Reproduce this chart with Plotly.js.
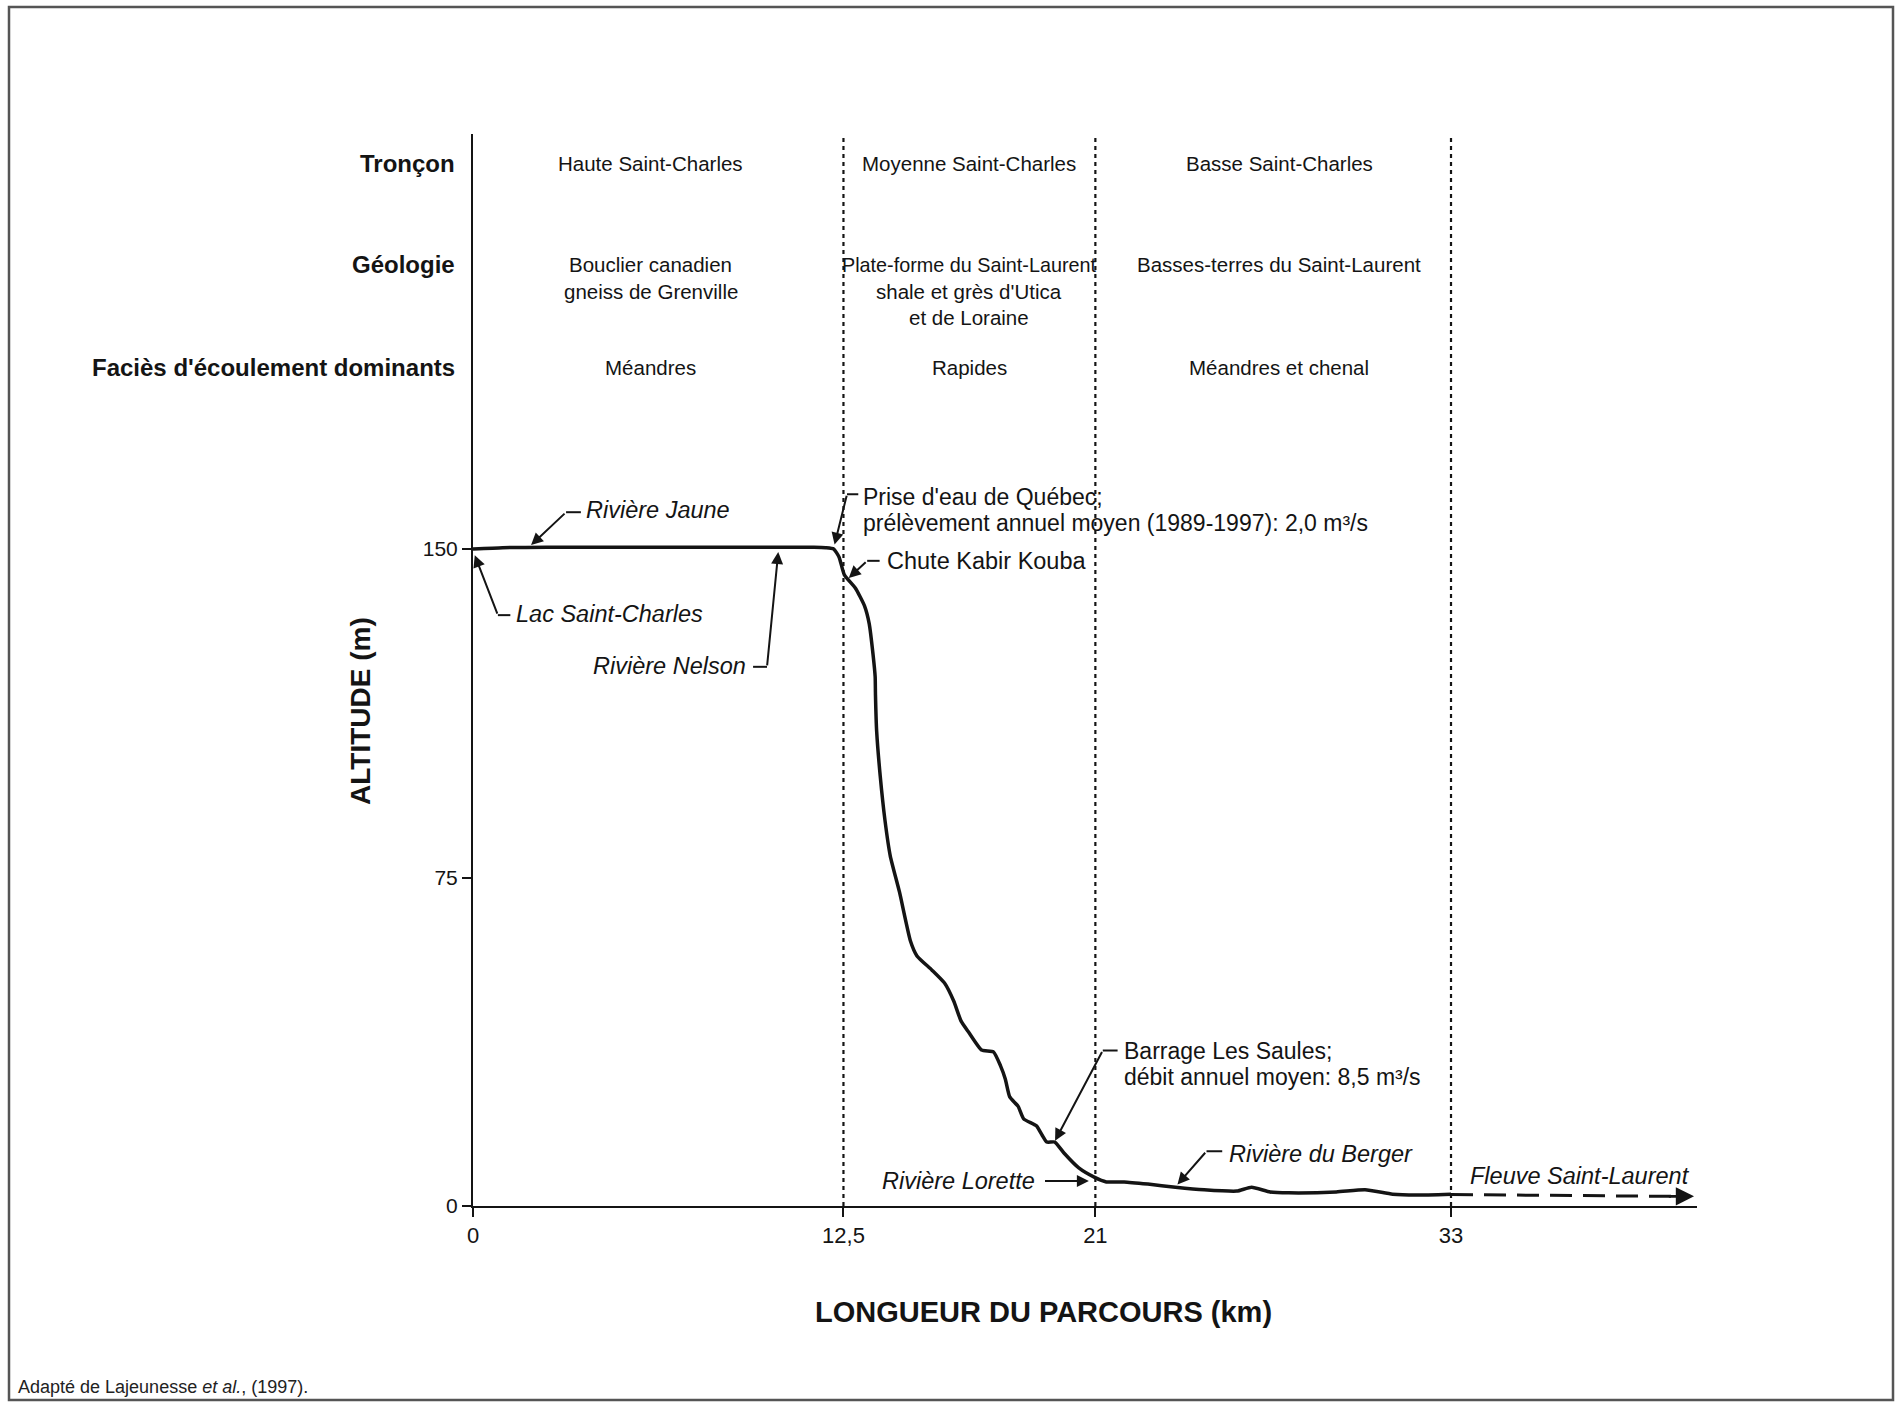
<!DOCTYPE html>
<html>
<head>
<meta charset="utf-8">
<script src="https://cdn.plot.ly/plotly-3.0.1.min.js"></script>
<style>html,body{margin:0;padding:0;background:#fff;}#chart{width:1904px;height:1402px;}</style>
</head>
<body>
<div id="chart"></div>
<script>
// ---- Data ----
const distanceKm = [0, 1.0, 2.5, 6, 10, 11.5, 11.9, 12.17, 12.35, 12.53, 12.90, 13.21, 13.37, 13.50, 13.57, 13.58, 13.62, 13.74, 13.90, 14.08, 14.39, 14.76, 14.98, 15.48, 15.91, 16.22, 16.47, 16.72, 17.16, 17.56, 17.80, 17.96, 18.11, 18.39, 18.58, 19.01, 19.20, 19.36, 19.63, 19.94, 20.44, 20.96, 21.37, 21.97, 22.77, 23.7, 24.67, 25.77, 26.27, 26.9, 27.53, 29.13, 30.1, 31.03, 31.83, 33];
const altitudeM = [150, 150.3, 150.4, 150.4, 150.4, 150.4, 150.3, 150.0, 148.2, 144.1, 141.1, 137.0, 132.9, 125.8, 120.8, 116.7, 108.4, 98.2, 88.1, 79.9, 71.7, 60.5, 57.1, 53.9, 50.9, 46.8, 42.2, 39.7, 35.6, 35.2, 32.0, 29.0, 24.9, 22.8, 19.9, 18.3, 16.2, 14.6, 14.6, 12.1, 8.7, 6.6, 5.5, 5.5, 5.0, 4.3, 3.7, 3.4, 4.3, 3.2, 3.0, 3.2, 3.7, 2.7, 2.5, 2.7];
const fleuveKm = [33, 40.7];
const fleuveAlt = [2.6, 2.2];
const boundaryKm = [12.5, 21, 33];
const xTickVals = [0, 12.5, 21, 33];
const xTickText = ['0', '12,5', '21', '33'];
const yTickVals = [0, 75, 150];
const yTickText = ['0', '75', '150'];
const rowLabels = ['Tronçon', 'Géologie', "Faciès d'écoulement dominants"];
const sectionNames = ['Haute Saint-Charles', 'Moyenne Saint-Charles', 'Basse Saint-Charles'];
const geology = [['Bouclier canadien', 'gneiss de Grenville'], ['Plate-forme du Saint-Laurent', "shale et grès d'Utica", 'et de Loraine'], ['Basses-terres du Saint-Laurent']];
const facies = ['Méandres', 'Rapides', 'Méandres et chenal'];

// ---- Styling ----
const SANS = '"Liberation Sans", Arial, Helvetica, sans-serif';
const INK = '#141414';

const sectionX = [6.0, 16.75, 27.2];
const rowY = [238.1, 214.9, 191.5];
const lineStep = 6.0;
const HEAD_SIZE = 20.5;

const annotations = [];
const shapes = [];

// header row labels
rowLabels.forEach((t, i) => annotations.push({
  xref: 'paper', yref: 'y', x: -0.0134, y: rowY[i], xanchor: 'right', yanchor: 'middle',
  text: '<b>' + t + '</b>', showarrow: false, font: {family: SANS, size: 24, color: INK}
}));
// section columns
sectionNames.forEach((t, i) => annotations.push({
  xref: 'x', yref: 'y', x: sectionX[i], y: rowY[0], xanchor: 'center', yanchor: 'middle',
  text: t, showarrow: false, font: {family: SANS, size: HEAD_SIZE, color: INK}
}));
geology.forEach((lines, i) => lines.forEach((t, j) => annotations.push({
  xref: 'x', yref: 'y', x: sectionX[i], y: rowY[1] - j * lineStep, xanchor: 'center', yanchor: 'middle',
  text: t, showarrow: false, font: {family: SANS, size: (i === 1 && j === 0) ? 19.8 : HEAD_SIZE, color: INK}
})));
facies.forEach((t, i) => annotations.push({
  xref: 'x', yref: 'y', x: sectionX[i], y: rowY[2], xanchor: 'center', yanchor: 'middle',
  text: t, showarrow: false, font: {family: SANS, size: HEAD_SIZE, color: INK}
}));

// labels on the profile
function label(text, x, y, anchor, italic, size) {
  annotations.push({xref: 'x', yref: 'y', x: x, y: y, xanchor: anchor, yanchor: 'middle',
    text: italic ? '<i>' + text + '</i>' : text, showarrow: false,
    font: {family: SANS, size: size || 23.5, color: INK}});
}
function arrow(tx, ty, hx, hy) {
  annotations.push({xref: 'x', yref: 'y', axref: 'x', ayref: 'y', x: hx, y: hy, ax: tx, ay: ty,
    text: '', showarrow: true, arrowhead: 2, arrowsize: 1.2, arrowwidth: 2, arrowcolor: INK});
}
function stub(x0, y0, x1, y1) {
  shapes.push({type: 'line', xref: 'x', yref: 'y', x0: x0, y0: y0, x1: x1, y1: y1,
    line: {color: INK, width: 2}});
}

label('Rivière Jaune', 3.76, 158.9, 'left', true);
stub(3.14, 158.4, 3.64, 158.4); arrow(3.14, 158.4, 1.96, 150.9);

label('Lac Saint-Charles', 1.4, 135.2, 'left', true);
stub(0.84, 134.9, 1.26, 134.9); arrow(0.84, 134.9, 0.06, 148.6);

label('Rivière Nelson', 9.28, 123.3, 'right', true);
stub(9.45, 123.1, 9.92, 123.1); arrow(9.92, 123.1, 10.3, 149.3);

label("Prise d'eau de Québec;", 13.1, 161.9, 'left', false, 23);
label('prélèvement annuel moyen (1989-1997): 2,0 m³/s', 13.1, 155.9, 'left', false, 23);
stub(12.62, 162.5, 13.0, 162.5); arrow(12.62, 162.5, 12.2, 151.0);

label('Chute Kabir Kouba', 13.9, 147.3, 'left', false);
stub(13.3, 147.3, 13.72, 147.3); arrow(13.3, 147.3, 12.68, 143.4);

label('Barrage Les Saules;', 21.9, 35.4, 'left', false, 23);
label('débit annuel moyen: 8,5 m³/s', 21.9, 29.4, 'left', false, 23);
stub(21.25, 35.5, 21.75, 35.5); arrow(21.25, 35.5, 19.64, 14.9);

label('Rivière Lorette', 19.03, 5.7, 'right', true);
arrow(19.25, 5.7, 20.78, 5.7);

label('Rivière du Berger', 25.45, 11.9, 'left', true);
stub(24.75, 12.5, 25.28, 12.5); arrow(24.75, 12.5, 23.77, 4.9);

label('Fleuve Saint-Laurent', 33.57, 6.85, 'left', true);
// arrow head on the dashed river extension
annotations.push({xref: 'x', yref: 'y', axref: 'x', ayref: 'y', x: 41.2, y: fleuveAlt[1], ax: 40.3, ay: fleuveAlt[1],
  text: '', showarrow: true, arrowhead: 2, arrowsize: 1.4, arrowwidth: 2.6, arrowcolor: INK});

// axis titles & source
annotations.push({xref: 'paper', yref: 'paper', x: 0.4657, y: -0.0989, xanchor: 'center', yanchor: 'middle',
  text: '<b>LONGUEUR DU PARCOURS (km)</b>', showarrow: false, font: {family: SANS, size: 29, color: INK}});
annotations.push({xref: 'paper', yref: 'paper', x: -0.0915, y: 0.4618, xanchor: 'center', yanchor: 'middle', textangle: -90,
  text: '<b>ALTITUDE (m)</b>', showarrow: false, font: {family: SANS, size: 28, color: INK}});
annotations.push({xref: 'paper', yref: 'paper', x: -0.3735, y: -0.1685, xanchor: 'left', yanchor: 'middle',
  text: 'Adapté de Lajeunesse <i>et al.</i>, (1997).', showarrow: false, font: {family: SANS, size: 18, color: '#222'}});

// section boundary dashed lines
boundaryKm.forEach(b => shapes.push({type: 'line', xref: 'x', yref: 'paper', x0: b, x1: b, y0: 0, y1: 0.998,
  line: {color: INK, width: 2.2, dash: '4px,4px'}}));

// scanned page frame
shapes.push({type: 'rect', xref: 'paper', yref: 'paper', x0: (9 - 473) / 1224, x1: (1893 - 473) / 1224,
  y0: (1206 - 1400) / 1072, y1: (1206 - 7) / 1072, line: {color: '#555', width: 2.5}});

const traces = [
  {x: distanceKm, y: altitudeM, type: 'scatter', mode: 'lines', line: {color: INK, width: 3.5, shape: 'spline', smoothing: 0.5},
   hoverinfo: 'skip', showlegend: false},
  {x: fleuveKm, y: fleuveAlt, type: 'scatter', mode: 'lines', line: {color: INK, width: 3, dash: '22px,11px'},
   hoverinfo: 'skip', showlegend: false}
];

const layout = {
  width: 1904, height: 1402,
  margin: {l: 473, r: 207, t: 134, b: 196, pad: 0},
  paper_bgcolor: '#fff', plot_bgcolor: '#fff',
  showlegend: false,
  xaxis: {range: [0, 41.3], showline: true, linecolor: INK, linewidth: 2, zeroline: false, showgrid: false,
    ticks: 'outside', ticklen: 9, tickwidth: 2, tickcolor: INK, tickmode: 'array', tickvals: xTickVals, ticktext: xTickText,
    tickfont: {family: SANS, size: 22, color: INK}, fixedrange: true},
  yaxis: {range: [0, 244.75], showline: true, linecolor: INK, linewidth: 2, zeroline: false, showgrid: false,
    ticks: 'outside', ticklen: 9, tickwidth: 2, tickcolor: INK, tickmode: 'array', tickvals: yTickVals, ticktext: yTickText,
    tickfont: {family: SANS, size: 21, color: INK}, fixedrange: true},
  annotations: annotations,
  shapes: shapes
};

Plotly.newPlot('chart', traces, layout, {displayModeBar: false, staticPlot: true});
</script>
</body>
</html>
